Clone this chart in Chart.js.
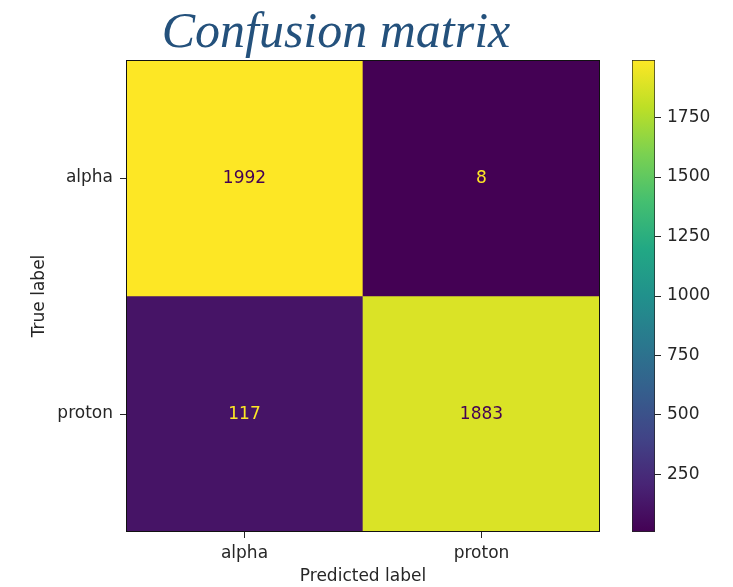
<!DOCTYPE html>
<html>
<head>
<meta charset="utf-8">
<script src="https://cdn.jsdelivr.net/npm/chart.js@4/dist/chart.umd.min.js"></script>
<style>
  html, body { margin: 0; padding: 0; background: #fff; }
  #wrap { position: relative; width: 733px; height: 587px; overflow: hidden; }
  canvas { position: absolute; left: 0; top: 0; }
  #title {
    position: absolute; left: 0; width: 672px; top: 0; text-align: center;
    font-family: "Liberation Serif", "DejaVu Serif", serif; font-style: italic;
    font-size: 50px; color: #24517c; line-height: 60px; white-space: nowrap;
  }
</style>
</head>
<body>
<div id="wrap">
  <canvas id="cm" width="733" height="587"></canvas>
  <canvas id="cbar" width="733" height="587"></canvas>
  <div id="title">Confusion matrix</div>
</div>
<script>
// Class names and counts (rows = true label, columns = predicted label)
const classes = ['alpha', 'proton'];
const rowAlpha = [1992, 8];
const rowProton = [117, 1883];
const matrix = [rowAlpha, rowProton];
const colorbarTicks = [250, 500, 750, 1000, 1250, 1500, 1750];
const axisTitleX = 'Predicted label';
const axisTitleY = 'True label';

const FONT = '"DejaVu Sans", sans-serif';
const FS = 17;
const TEXT = '#262626';

// viridis colormap, sampled every 0.1
const viridis = ['#440154', '#482475', '#414487', '#355f8d', '#2a788e', '#21918c',
                 '#22a884', '#44bf70', '#7ad151', '#bddf26', '#fde725'];
function hexRgb(h) { return [1, 3, 5].map(i => parseInt(h.substr(i, 2), 16)); }
function cmap(t) {
  t = Math.max(0, Math.min(1, t));
  const p = t * (viridis.length - 1);
  const i = Math.min(Math.floor(p), viridis.length - 2);
  const f = p - i;
  const a = hexRgb(viridis[i]), b = hexRgb(viridis[i + 1]);
  const c = a.map((v, k) => Math.round(v + (b[k] - v) * f));
  return `rgb(${c[0]},${c[1]},${c[2]})`;
}
const allVals = matrix.flat();
const vmin = Math.min(...allVals);
const vmax = Math.max(...allVals);
const norm = v => (v - vmin) / (vmax - vmin);

// one floating-bar dataset per true-label row
const datasets = matrix.map((row, r) => ({
  label: classes[r],
  data: row.map(() => [r, r + 1]),
  counts: row,
  backgroundColor: row.map(v => cmap(norm(v))),
  borderWidth: 0,
  grouped: false,
  barPercentage: 1,
  categoryPercentage: 1
}));

const cellText = {
  id: 'cellText',
  afterDatasetsDraw(chart) {
    const ctx = chart.ctx;
    ctx.save();
    ctx.font = `${FS}px ${FONT}`;
    ctx.textAlign = 'center';
    ctx.textBaseline = 'middle';
    const mid = (vmax + vmin) / 2;
    chart.data.datasets.forEach((ds, di) => {
      chart.getDatasetMeta(di).data.forEach((el, i) => {
        const v = ds.counts[i];
        ctx.fillStyle = v < mid ? cmap(1) : cmap(0);
        ctx.fillText(String(v), el.x, (el.y + el.base) / 2 + 1);
      });
    });
    ctx.restore();
  }
};

const frame = {
  id: 'frame',
  afterDraw(chart) {
    const a = chart.chartArea, ctx = chart.ctx;
    ctx.save();
    ctx.strokeStyle = '#111';
    ctx.lineWidth = 1;
    ctx.strokeRect(Math.round(a.left) + 0.5, Math.round(a.top) + 0.5,
                   Math.round(a.right - a.left) - 1, Math.round(a.bottom - a.top) - 1);
    ctx.restore();
  }
};

new Chart(document.getElementById('cm'), {
  type: 'bar',
  data: { labels: classes, datasets },
  options: {
    responsive: false,
    animation: false,
    layout: { padding: { left: 29, top: 60, right: 133, bottom: 0 } },
    plugins: { legend: { display: false }, tooltip: { enabled: false }, title: { display: false } },
    scales: {
      x: {
        grid: { offset: false, drawOnChartArea: false, drawTicks: true, tickLength: 6, color: TEXT },
        border: { display: false },
        ticks: { color: TEXT, font: { family: FONT, size: FS }, padding: 5 },
        title: { display: true, text: axisTitleX, color: TEXT, font: { family: FONT, size: FS }, padding: { top: 3, bottom: 0 } },
        afterFit(s) { s.height = 55; }
      },
      y: {
        type: 'linear', min: 0, max: 2, reverse: true,
        afterBuildTicks(s) { s.ticks = classes.map((c, i) => ({ value: i + 0.5 })); },
        grid: { drawOnChartArea: false, drawTicks: true, tickLength: 6, color: TEXT },
        border: { display: false },
        ticks: { color: TEXT, font: { family: FONT, size: FS }, padding: 7,
                 callback: v => classes[Math.floor(v)] },
        title: { display: true, text: axisTitleY, color: TEXT, font: { family: FONT, size: FS }, padding: 0 },
        afterFit(s) { s.width = 97; }
      }
    }
  },
  plugins: [cellText, frame]
});

// colorbar: one floating bar spanning the value range, filled with the colormap
new Chart(document.getElementById('cbar'), {
  type: 'bar',
  data: {
    labels: [''],
    datasets: [{
      data: [[vmin, vmax]],
      backgroundColor(c) {
        const a = c.chart.chartArea;
        if (!a) return cmap(0.5);
        const g = c.chart.ctx.createLinearGradient(0, a.bottom, 0, a.top);
        viridis.forEach((col, i) => g.addColorStop(i / (viridis.length - 1), col));
        return g;
      },
      borderColor: '#222',
      borderWidth: 1,
      borderSkipped: false,
      barPercentage: 1,
      categoryPercentage: 1
    }]
  },
  options: {
    responsive: false,
    animation: false,
    layout: { padding: { left: 632, top: 60, right: 0, bottom: 55 } },
    plugins: { legend: { display: false }, tooltip: { enabled: false } },
    scales: {
      x: { display: false },
      y: {
        position: 'right', min: vmin, max: vmax,
        afterBuildTicks(s) { s.ticks = colorbarTicks.map(v => ({ value: v })); },
        grid: { drawOnChartArea: false, drawTicks: true, tickLength: 6, color: TEXT },
        border: { display: false },
        ticks: { color: TEXT, font: { family: FONT, size: FS }, padding: 6, callback: v => String(v) },
        afterFit(s) { s.width = 78; }
      }
    }
  }
});
</script>
</body>
</html>
